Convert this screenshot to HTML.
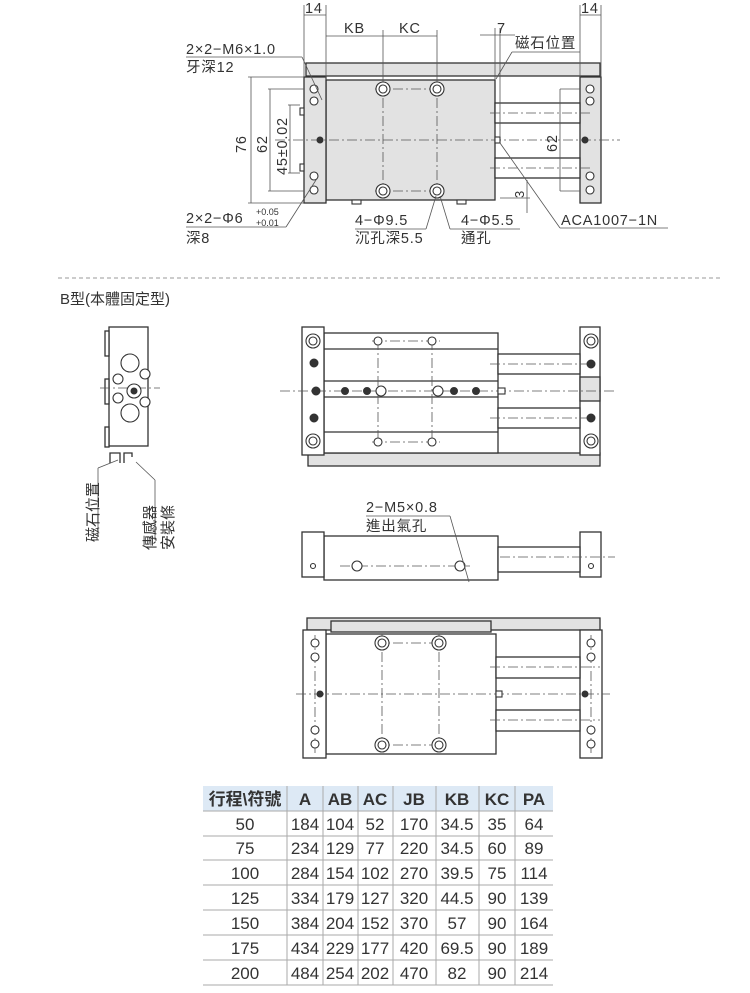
<!DOCTYPE html>
<html><head><meta charset="utf-8"><style>
html,body{margin:0;padding:0;background:#fff;}
svg{display:block;}
text{font-family:"Liberation Sans","Noto Sans CJK TC",sans-serif;fill:#333;}
.o{fill:none;stroke:#333;stroke-width:1.3;}
.f{fill:#fff;stroke:#333;stroke-width:1.3;}
.g{fill:#e2e2e2;stroke:#333;stroke-width:1.3;}
.c{stroke:#555;stroke-width:0.8;stroke-dasharray:10 3 2 3;fill:none;}
.d{stroke:#555;stroke-width:0.8;fill:none;}
.h{fill:#fff;stroke:#333;stroke-width:1.1;}
.k{fill:#333;stroke:#333;stroke-width:1;}
.t{font-size:14.5px;letter-spacing:0.8px;}
</style></head><body>
<svg width="750" height="993" viewBox="0 0 750 993" xmlns="http://www.w3.org/2000/svg">
<!-- ===== TOP VIEW ===== -->
<rect class="g" x="306" y="63" width="294" height="13"/>
<rect class="g" x="326" y="80" width="169" height="120"/>
<rect class="g" x="304" y="77" width="22" height="126"/>
<rect class="g" x="580" y="77" width="21" height="126"/>
<rect class="f" x="495" y="103" width="85" height="20"/>
<rect class="f" x="495" y="158" width="85" height="20"/>
<line class="c" x1="275" y1="140" x2="620" y2="140"/>
<line class="c" x1="490" y1="113" x2="590" y2="113"/>
<line class="c" x1="490" y1="168" x2="590" y2="168"/>
<line class="c" x1="383" y1="80" x2="383" y2="200"/>
<line class="c" x1="437" y1="80" x2="437" y2="200"/>
<line class="c" x1="375" y1="89" x2="445" y2="89"/>
<line class="c" x1="375" y1="191" x2="445" y2="191"/>
<g>
<circle class="h" cx="383" cy="89" r="7"/><circle class="h" cx="383" cy="89" r="4"/>
<circle class="h" cx="437" cy="89" r="7"/><circle class="h" cx="437" cy="89" r="4"/>
<circle class="h" cx="383" cy="191" r="7"/><circle class="h" cx="383" cy="191" r="4"/>
<circle class="h" cx="437" cy="191" r="7"/><circle class="h" cx="437" cy="191" r="4"/>
</g>
<g>
<circle class="h" cx="314" cy="89" r="4"/><circle class="h" cx="314" cy="101" r="4"/>
<circle class="h" cx="314" cy="176" r="4"/><circle class="h" cx="314" cy="190" r="4"/>
<circle class="k" cx="320" cy="140" r="3"/>
<circle class="h" cx="590" cy="89" r="4"/><circle class="h" cx="590" cy="101" r="4"/>
<circle class="h" cx="590" cy="176" r="4"/><circle class="h" cx="590" cy="190" r="4"/>
<circle class="k" cx="585" cy="140" r="3"/>
<rect class="h" x="495" y="137" width="5" height="6"/>
<rect class="h" x="300" y="108" width="4" height="7"/><rect class="h" x="300" y="164" width="4" height="7"/>
<rect class="h" x="352" y="200" width="9" height="4"/><rect class="h" x="457" y="200" width="9" height="4"/>
</g>
<!-- dims -->
<line class="d" x1="304" y1="5" x2="304" y2="77"/><line class="d" x1="326" y1="5" x2="326" y2="80"/>
<line class="d" x1="304" y1="15" x2="326" y2="15"/>
<text x="305" y="13" class="t">14</text>
<line class="d" x1="580" y1="5" x2="580" y2="77"/><line class="d" x1="601" y1="5" x2="601" y2="77"/>
<line class="d" x1="580" y1="15" x2="601" y2="15"/>
<text x="581" y="13" class="t">14</text>
<line class="d" x1="326" y1="36" x2="437" y2="36"/>
<line class="d" x1="383" y1="30" x2="383" y2="80"/><line class="d" x1="437" y1="30" x2="437" y2="80"/>
<text x="344" y="33" class="t">KB</text><text x="399" y="33" class="t">KC</text>
<line class="d" x1="495" y1="28" x2="495" y2="80"/><line class="d" x1="500" y1="28" x2="500" y2="137"/>
<line class="d" x1="480" y1="35" x2="515" y2="35"/><text x="497" y="33" class="t">7</text>
<text x="515" y="48" class="t">磁石位置</text>
<line class="d" x1="512" y1="52" x2="580" y2="52"/><line class="d" x1="512" y1="52" x2="496" y2="79"/>
<text x="186" y="54" class="t">2×2−M6×1.0</text><text x="186" y="72" class="t">牙深12</text>
<line class="d" x1="186" y1="57" x2="302" y2="57"/><line class="d" x1="302" y1="57" x2="322" y2="100"/>
<line class="d" x1="248" y1="77" x2="304" y2="77"/><line class="d" x1="248" y1="203" x2="304" y2="203"/>
<line class="d" x1="251" y1="77" x2="251" y2="203"/>
<text transform="translate(246,153) rotate(-90)" class="t">76</text>
<line class="d" x1="268" y1="89" x2="304" y2="89"/><line class="d" x1="268" y1="191" x2="304" y2="191"/>
<line class="d" x1="270" y1="89" x2="270" y2="191"/>
<text transform="translate(267,153) rotate(-90)" class="t">62</text>
<line class="d" x1="288" y1="105" x2="300" y2="105"/><line class="d" x1="288" y1="173" x2="300" y2="173"/>
<line class="d" x1="290" y1="105" x2="290" y2="173"/>
<text transform="translate(287,175) rotate(-90)" class="t">45±0.02</text>
<line class="d" x1="560" y1="89" x2="580" y2="89"/><line class="d" x1="560" y1="191" x2="580" y2="191"/>
<line class="d" x1="560" y1="89" x2="560" y2="191"/>
<text transform="translate(557,152) rotate(-90)" class="t">62</text>
<line class="d" x1="527" y1="180" x2="527" y2="213"/><line class="d" x1="500" y1="198" x2="530" y2="198"/>
<text transform="translate(524,198) rotate(-90)" font-size="13">3</text>
<line class="d" x1="500" y1="143" x2="560" y2="228"/><line class="d" x1="560" y1="228" x2="668" y2="228"/>
<text x="561" y="225" class="t">ACA1007−1N</text>
<text x="186" y="223" class="t">2×2−Φ6</text><text x="256" y="215" font-size="9">+0.05</text><text x="256" y="226" font-size="9">+0.01</text>
<text x="186" y="243" class="t">深8</text>
<line class="d" x1="186" y1="227" x2="286" y2="227"/><line class="d" x1="286" y1="227" x2="316" y2="180"/>
<text x="355" y="225" class="t">4−Φ9.5</text><text x="355" y="243" class="t">沉孔深5.5</text>
<line class="d" x1="355" y1="229" x2="426" y2="229"/><line class="d" x1="426" y1="229" x2="436" y2="196"/>
<text x="461" y="225" class="t">4−Φ5.5</text><text x="461" y="243" class="t">通孔</text>
<line class="d" x1="450" y1="229" x2="520" y2="229"/><line class="d" x1="450" y1="229" x2="440" y2="196"/>
<!-- separator -->
<line x1="58" y1="278" x2="720" y2="278" stroke="#999" stroke-width="1" stroke-dasharray="4 3"/>
<text x="60" y="304" font-size="15">B型(本體固定型)</text>
<!-- ===== SIDE VIEW ===== -->
<rect class="f" x="109" y="327" width="39" height="119"/>
<rect class="f" x="105" y="331" width="4" height="25"/><rect class="f" x="105" y="379" width="4" height="25"/><rect class="f" x="105" y="427" width="4" height="20"/>
<line class="c" x1="100" y1="388" x2="160" y2="388"/>
<circle class="h" cx="130" cy="363" r="9"/><circle class="h" cx="130" cy="413" r="9"/>
<circle class="h" cx="118" cy="379" r="5"/><circle class="h" cx="118" cy="398" r="5"/>
<circle class="h" cx="145" cy="374" r="5"/><circle class="h" cx="145" cy="402" r="5"/>
<circle class="h" cx="134" cy="391" r="7"/><circle class="k" cx="134" cy="391" r="3"/>
<path class="o" d="M110 463 V453 h10 v10 M124 463 V453 h8 v4"/>
<line class="d" x1="118" y1="460" x2="98" y2="468"/><line class="d" x1="98" y1="468" x2="98" y2="530"/>
<line class="d" x1="136" y1="462" x2="155" y2="480"/><line class="d" x1="155" y1="480" x2="155" y2="540"/>
<text transform="translate(98,542) rotate(-90)" font-size="15">磁石位置</text>
<text transform="translate(155,550) rotate(-90)" font-size="15">傳感器</text>
<text transform="translate(173,550) rotate(-90)" font-size="15">安裝條</text>
<!-- ===== TOP VIEW B ===== -->
<rect class="g" x="308" y="453" width="292" height="13"/>
<rect class="f" x="324" y="333" width="174" height="120"/>
<line class="o" x1="324" y1="349" x2="498" y2="349"/><line class="o" x1="324" y1="381" x2="498" y2="381"/>
<line class="o" x1="324" y1="397" x2="498" y2="397"/><line class="o" x1="324" y1="432" x2="498" y2="432"/>
<rect class="f" x="302" y="327" width="22" height="128"/>
<rect class="f" x="580" y="327" width="20" height="128"/>
<rect class="f" x="498" y="354" width="82" height="20"/><rect class="f" x="498" y="408" width="82" height="20"/>
<rect class="g" x="580" y="377" width="20" height="24"/>
<line class="c" x1="280" y1="391" x2="615" y2="391"/>
<line class="c" x1="490" y1="364" x2="590" y2="364"/><line class="c" x1="490" y1="418" x2="590" y2="418"/>
<line class="c" x1="378" y1="340" x2="378" y2="445"/><line class="c" x1="432" y1="340" x2="432" y2="445"/>
<line class="c" x1="372" y1="341" x2="440" y2="341"/><line class="c" x1="372" y1="442" x2="440" y2="442"/>
<circle class="h" cx="378" cy="341" r="4"/><circle class="h" cx="432" cy="341" r="4"/>
<circle class="h" cx="378" cy="442" r="4"/><circle class="h" cx="432" cy="442" r="4"/>
<circle class="h" cx="313" cy="341" r="7"/><circle class="h" cx="313" cy="341" r="4"/>
<circle class="h" cx="313" cy="441" r="7"/><circle class="h" cx="313" cy="441" r="4"/>
<circle class="k" cx="314" cy="363" r="4"/><circle class="k" cx="316" cy="391" r="4"/><circle class="k" cx="314" cy="418" r="4"/>
<circle class="h" cx="591" cy="341" r="7"/><circle class="h" cx="591" cy="341" r="4"/>
<circle class="h" cx="591" cy="441" r="7"/><circle class="h" cx="591" cy="441" r="4"/>
<circle class="k" cx="591" cy="364" r="4"/><circle class="k" cx="591" cy="418" r="4"/>
<circle class="k" cx="345" cy="391" r="3.5"/><circle class="k" cx="367" cy="391" r="3.5"/>
<circle class="h" cx="381" cy="391" r="5"/><circle class="h" cx="438" cy="391" r="5"/>
<circle class="k" cx="454" cy="391" r="3.5"/><circle class="k" cx="476" cy="391" r="3.5"/>
<rect class="h" x="498" y="388" width="7" height="6"/>
<!-- ===== FRONT VIEW ===== -->
<rect class="f" x="324" y="536" width="174" height="44"/>
<rect class="f" x="302" y="532" width="22" height="45"/>
<rect class="f" x="580" y="532" width="21" height="45"/>
<rect class="f" x="498" y="547" width="82" height="25"/>
<line class="c" x1="500" y1="557" x2="615" y2="557"/>
<line class="c" x1="340" y1="566" x2="470" y2="566"/>
<circle class="h" cx="357" cy="566" r="5"/><circle class="h" cx="460" cy="566" r="5"/>
<circle class="h" cx="313" cy="566" r="2.5"/><circle class="h" cx="591" cy="566" r="2.5"/>
<text x="366" y="512" class="t">2−M5×0.8</text><text x="366" y="531" class="t">進出氣孔</text>
<line class="d" x1="366" y1="516" x2="450" y2="516"/><line class="d" x1="450" y1="516" x2="469" y2="582"/>
<!-- ===== BOTTOM VIEW ===== -->
<rect class="g" x="307" y="618" width="293" height="12"/>
<rect class="g" x="331" y="621" width="160" height="11"/>
<rect class="f" x="326" y="634" width="170" height="120"/>
<rect class="f" x="303" y="630" width="23" height="128"/>
<rect class="f" x="580" y="630" width="22" height="128"/>
<rect class="f" x="496" y="657" width="84" height="21"/><rect class="f" x="496" y="710" width="84" height="21"/>
<line class="c" x1="296" y1="694" x2="610" y2="694"/>
<line class="c" x1="490" y1="667" x2="600" y2="667"/><line class="c" x1="490" y1="720" x2="600" y2="720"/>
<line class="c" x1="382" y1="634" x2="382" y2="754"/><line class="c" x1="439" y1="634" x2="439" y2="754"/>
<line class="c" x1="375" y1="643" x2="445" y2="643"/><line class="c" x1="375" y1="745" x2="445" y2="745"/>
<line class="c" x1="315" y1="635" x2="315" y2="755"/><line class="c" x1="591" y1="635" x2="591" y2="755"/>
<circle class="h" cx="382" cy="643" r="7"/><circle class="h" cx="382" cy="643" r="4"/>
<circle class="h" cx="439" cy="643" r="7"/><circle class="h" cx="439" cy="643" r="4"/>
<circle class="h" cx="382" cy="745" r="7"/><circle class="h" cx="382" cy="745" r="4"/>
<circle class="h" cx="439" cy="745" r="7"/><circle class="h" cx="439" cy="745" r="4"/>
<circle class="h" cx="315" cy="643" r="4"/><circle class="h" cx="315" cy="657" r="4"/>
<circle class="h" cx="315" cy="730" r="4"/><circle class="h" cx="315" cy="744" r="4"/>
<circle class="h" cx="591" cy="643" r="4"/><circle class="h" cx="591" cy="657" r="4"/>
<circle class="h" cx="591" cy="730" r="4"/><circle class="h" cx="591" cy="744" r="4"/>
<circle class="k" cx="320" cy="694" r="3"/><circle class="k" cx="585" cy="694" r="3"/>
<rect class="h" x="496" y="691" width="6" height="6"/>
<!-- ===== TABLE ===== -->
<rect x="203" y="786" width="350" height="25" fill="#dde9f5"/>
<g stroke="#aaa" stroke-width="1">
<line x1="203" y1="811" x2="553" y2="811"/><line x1="203" y1="836" x2="553" y2="836"/>
<line x1="203" y1="860" x2="553" y2="860"/><line x1="203" y1="885" x2="553" y2="885"/>
<line x1="203" y1="910" x2="553" y2="910"/><line x1="203" y1="935" x2="553" y2="935"/>
<line x1="203" y1="960" x2="553" y2="960"/><line x1="203" y1="985" x2="553" y2="985"/>
<line x1="287" y1="786" x2="287" y2="985"/><line x1="323" y1="786" x2="323" y2="985"/>
<line x1="358" y1="786" x2="358" y2="985"/><line x1="393" y1="786" x2="393" y2="985"/>
<line x1="436" y1="786" x2="436" y2="985"/><line x1="479" y1="786" x2="479" y2="985"/>
<line x1="515" y1="786" x2="515" y2="985"/>
</g>
<g font-size="17" font-weight="bold" text-anchor="middle">
<text x="245" y="805">行程\符號</text><text x="305" y="805">A</text><text x="340" y="805">AB</text>
<text x="375" y="805">AC</text><text x="414" y="805">JB</text><text x="457" y="805">KB</text>
<text x="497" y="805">KC</text><text x="534" y="805">PA</text>
</g>
<g font-size="17" text-anchor="middle">
<text x="245" y="830">50</text><text x="305" y="830">184</text><text x="340" y="830">104</text><text x="375" y="830">52</text><text x="414" y="830">170</text><text x="457" y="830">34.5</text><text x="497" y="830">35</text><text x="534" y="830">64</text>
<text x="245" y="854">75</text><text x="305" y="854">234</text><text x="340" y="854">129</text><text x="375" y="854">77</text><text x="414" y="854">220</text><text x="457" y="854">34.5</text><text x="497" y="854">60</text><text x="534" y="854">89</text>
<text x="245" y="879">100</text><text x="305" y="879">284</text><text x="340" y="879">154</text><text x="375" y="879">102</text><text x="414" y="879">270</text><text x="457" y="879">39.5</text><text x="497" y="879">75</text><text x="534" y="879">114</text>
<text x="245" y="904">125</text><text x="305" y="904">334</text><text x="340" y="904">179</text><text x="375" y="904">127</text><text x="414" y="904">320</text><text x="457" y="904">44.5</text><text x="497" y="904">90</text><text x="534" y="904">139</text>
<text x="245" y="929">150</text><text x="305" y="929">384</text><text x="340" y="929">204</text><text x="375" y="929">152</text><text x="414" y="929">370</text><text x="457" y="929">57</text><text x="497" y="929">90</text><text x="534" y="929">164</text>
<text x="245" y="954">175</text><text x="305" y="954">434</text><text x="340" y="954">229</text><text x="375" y="954">177</text><text x="414" y="954">420</text><text x="457" y="954">69.5</text><text x="497" y="954">90</text><text x="534" y="954">189</text>
<text x="245" y="979">200</text><text x="305" y="979">484</text><text x="340" y="979">254</text><text x="375" y="979">202</text><text x="414" y="979">470</text><text x="457" y="979">82</text><text x="497" y="979">90</text><text x="534" y="979">214</text>
</g>
</svg>
</body></html>
